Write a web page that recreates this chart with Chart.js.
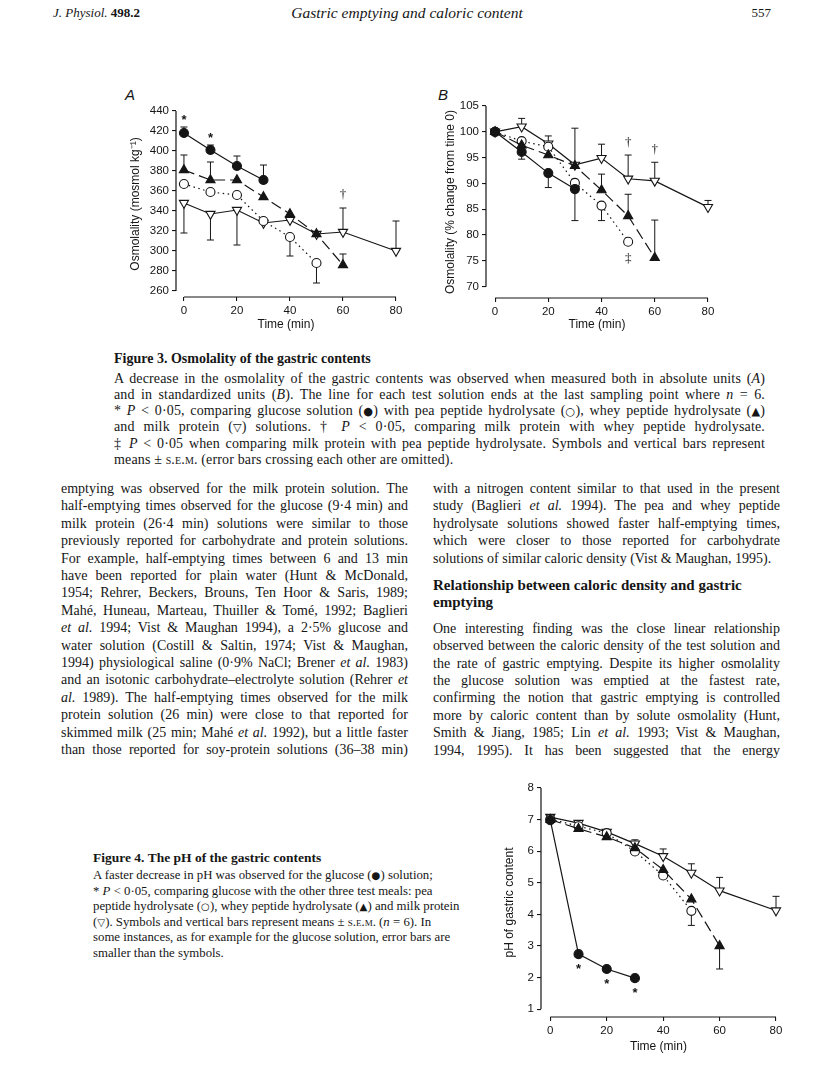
<!DOCTYPE html>
<html>
<head>
<meta charset="utf-8">
<script src="https://cdn.jsdelivr.net/npm/chart.js@4.4.1/dist/chart.umd.min.js"></script>
<style>
  body { margin: 0; background: #fff; }
  #page { position: relative; width: 816px; height: 1088px; overflow: hidden; color: #161616;
          font-family: "Liberation Serif", "DejaVu Serif", serif; }
  .abs { position: absolute; }
  canvas { position: absolute; }
  .j { text-align: justify; text-align-last: justify; white-space: nowrap; }
  .l { text-align: left; white-space: nowrap; }
  .body { font-size: 14px; line-height: 17.4px; }
  .cap3 { font-size: 14px; line-height: 15.8px; letter-spacing: 0.15px; }
  .cap4 { font-size: 12.8px; line-height: 15.6px; }
  .sc { font-variant: small-caps; }
  .sym { display: inline-block; font-family: "DejaVu Sans", sans-serif; font-size: 0.8em; }
  .panel { font-family: "Liberation Sans", sans-serif; font-style: italic; font-size: 15px; line-height: 16px; }
</style>
</head>
<body>
<div id="page">
  <!-- running head -->
  <div class="abs" style="left:53px; top:5px; font-size:13px; line-height:16px;"><i>J. Physiol.</i> <b>498.2</b></div>
  <div class="abs" style="left:200px; width:414px; top:4px; text-align:center; font-size:15.5px; line-height:18px;"><i>Gastric emptying and caloric content</i></div>
  <div class="abs" style="left:700px; width:71px; top:5px; text-align:right; font-size:13px; line-height:16px;">557</div>

  <div class="abs panel" style="left:125px; top:87px;">A</div>
  <div class="abs panel" style="left:438px; top:87px;">B</div>

  <canvas id="chartA" width="284" height="239" style="left:124px; top:97px;"></canvas>
  <canvas id="chartB" width="281" height="244" style="left:439px; top:92px;"></canvas>
  <canvas id="chartC" width="290" height="282" style="left:498px; top:776px;"></canvas>

  <!-- Figure 3 caption -->
  <div class="abs" style="left:114px; top:351px; font-size:14px; line-height:16px; font-weight:bold;">Figure 3. Osmolality of the gastric contents</div>
  <div class="abs cap3" style="left:114px; top:371px; width:651px;">
    <div class="j">A decrease in the osmolality of the gastric contents was observed when measured both in absolute units (<i>A</i>)</div>
    <div class="j">and in standardized units (<i>B</i>). The line for each test solution ends at the last sampling point where <i>n</i> = 6.</div>
    <div class="j">* <i>P</i> &lt; 0·05, comparing glucose solution (<span class="sym">●</span>) with pea peptide hydrolysate (<span class="sym">○</span>), whey peptide hydrolysate (<span class="sym">▲</span>)</div>
    <div class="j">and milk protein (<span class="sym">▽</span>) solutions. † <i>P</i> &lt; 0·05, comparing milk protein with whey peptide hydrolysate.</div>
    <div class="j">‡ <i>P</i> &lt; 0·05 when comparing milk protein with pea peptide hydrolysate. Symbols and vertical bars represent</div>
    <div class="l">means ± <span class="sc">s.e.m.</span> (error bars crossing each other are omitted).</div>
  </div>

  <!-- left text column -->
  <div class="abs body" style="left:61px; top:480px; width:347px;">
    <div class="j">emptying was observed for the milk protein solution. The</div>
    <div class="j">half-emptying times observed for the glucose (9·4 min) and</div>
    <div class="j">milk protein (26·4 min) solutions were similar to those</div>
    <div class="j">previously reported for carbohydrate and protein solutions.</div>
    <div class="j">For example, half-emptying times between 6 and 13 min</div>
    <div class="j">have been reported for plain water (Hunt &amp; McDonald,</div>
    <div class="j">1954; Rehrer, Beckers, Brouns, Ten Hoor &amp; Saris, 1989;</div>
    <div class="j">Mahé, Huneau, Marteau, Thuiller &amp; Tomé, 1992; Baglieri</div>
    <div class="j"><i>et al.</i> 1994; Vist &amp; Maughan 1994), a 2·5% glucose and</div>
    <div class="j">water solution (Costill &amp; Saltin, 1974; Vist &amp; Maughan,</div>
    <div class="j">1994) physiological saline (0·9% NaCl; Brener <i>et al.</i> 1983)</div>
    <div class="j">and an isotonic carbohydrate–electrolyte solution (Rehrer <i>et</i></div>
    <div class="j"><i>al.</i> 1989). The half-emptying times observed for the milk</div>
    <div class="j">protein solution (26 min) were close to that reported for</div>
    <div class="j">skimmed milk (25 min; Mahé <i>et al.</i> 1992), but a little faster</div>
    <div class="j">than those reported for soy-protein solutions (36–38 min)</div>
  </div>

  <!-- right text column -->
  <div class="abs body" style="left:433px; top:480px; width:347px;">
    <div class="j">with a nitrogen content similar to that used in the present</div>
    <div class="j">study (Baglieri <i>et al.</i> 1994). The pea and whey peptide</div>
    <div class="j">hydrolysate solutions showed faster half-emptying times,</div>
    <div class="j">which were closer to those reported for carbohydrate</div>
    <div class="l">solutions of similar caloric density (Vist &amp; Maughan, 1995).</div>
    <div style="margin:10px 0 8px 0; font-weight:bold; font-size:15px; line-height:17.4px;">
      <div class="l">Relationship between caloric density and gastric</div>
      <div class="l">emptying</div>
    </div>
    <div class="j">One interesting finding was the close linear relationship</div>
    <div class="j">observed between the caloric density of the test solution and</div>
    <div class="j">the rate of gastric emptying. Despite its higher osmolality</div>
    <div class="j">the glucose solution was emptied at the fastest rate,</div>
    <div class="j">confirming the notion that gastric emptying is controlled</div>
    <div class="j">more by caloric content than by solute osmolality (Hunt,</div>
    <div class="j">Smith &amp; Jiang, 1985; Lin <i>et al.</i> 1993; Vist &amp; Maughan,</div>
    <div class="j">1994, 1995). It has been suggested that the energy</div>
  </div>

  <!-- Figure 4 caption -->
  <div class="abs" style="left:93px; top:850px; font-size:13.5px; line-height:16px; font-weight:bold;">Figure 4. The pH of the gastric contents</div>
  <div class="abs cap4" style="left:93px; top:868px;">
    <div class="l">A faster decrease in pH was observed for the glucose (<span class="sym">●</span>) solution;</div>
    <div class="l">* <i>P</i> &lt; 0·05, comparing glucose with the other three test meals: pea</div>
    <div class="l">peptide hydrolysate (<span class="sym">○</span>), whey peptide hydrolysate (<span class="sym">▲</span>) and milk protein</div>
    <div class="l">(<span class="sym">▽</span>). Symbols and vertical bars represent means ± <span class="sc">s.e.m.</span> (<i>n</i> = 6). In</div>
    <div class="l">some instances, as for example for the glucose solution, error bars are</div>
    <div class="l">smaller than the symbols.</div>
  </div>
</div>

<script>
// sampling times (min)
const times = [0, 10, 20, 30, 40, 50, 60, 80];

// Figure 3A: osmolality (mosmol/kg); *Err = value at the end of the one-sided s.e.m. bar
const glucoseA    = [418, 401, 385, 371];
const glucoseAErr = [424, 406, 395, 386];
const peaA        = [367, 359, 356, 330, 314, 288];
const peaAErr     = [null, null, null, null, 295, 268];
const wheyA       = [381, 371, 371, 354, 337, 317, 286];
const wheyAErr    = [396, 389, null, null, null, null, 297];
const milkA       = [348, 337, 341, 328, 331, 317, 319, 300];
const milkAErr    = [318, 311, 306, null, null, null, 343, 330];
const yTicksA     = [260, 280, 300, 320, 340, 360, 380, 400, 420, 440];
const marksA      = [[0, 433.5, '*'], [10, 416, '*'], [60, 356, '†']];

// Figure 3B: % change from time 0
const glucoseB    = [100, 96.1, 92.0, 88.9];
const glucoseBErr = [null, 94.7, 89.2, 82.8];
const peaB        = [100, 98.2, 97.1, 90.1, 85.7, 78.7];
const peaBErr     = [null, null, null, null, 82.8, null];
const wheyB       = [100, 97.4, 95.5, 93.4, 88.7, 83.7, 75.6];
const wheyBErr    = [null, null, null, null, 91.8, 87.9, 82.9];
const milkB       = [100, 101.0, 97.7, 93.6, 94.9, 90.9, 90.5, 85.4];
const milkBErr    = [null, 102.6, 99.2, 100.7, 97.6, 95.5, 94.1, 86.7];
const yTicksB     = [70, 75, 80, 85, 90, 95, 100, 105];
const marksB      = [[50, 98.0, '†'], [60, 96.6, '†'], [50, 75.4, '‡']];

// Figure 4: pH
const glucoseC    = [6.98, 2.74, 2.27, 1.98];
const glucoseCErr = [null, null, null, null];
const peaC        = [7.02, 6.79, 6.57, 5.99, 5.23, 4.11];
const peaCErr     = [null, null, null, null, null, 3.65];
const wheyC       = [7.0, 6.71, 6.45, 6.10, 5.41, 4.48, 3.0];
const wheyCErr    = [null, null, null, null, null, null, 2.27];
const milkC       = [7.08, 6.89, 6.61, 6.24, 5.84, 5.31, 4.75, 4.12];
const milkCErr    = [null, null, null, 6.36, 6.07, 5.60, 5.17, 4.57];
const yTicksC     = [1, 2, 3, 4, 5, 6, 7, 8];
const marksC      = [[10, 2.36, '*'], [20, 1.88, '*'], [30, 1.6, '*']];

const xTicks = [0, 20, 40, 60, 80];
const INK = '#151515';

Chart.defaults.font.family = '"Liberation Sans", Arial, sans-serif';
Chart.defaults.font.size = 11.5;
Chart.defaults.color = INK;

function pts(vals) { return vals.map((v, i) => ({ x: times[i], y: v })); }

function series(vals, errs, kind) {
  const styles = {
    glucose: { pointStyle: 'circle', radius: 4.5, fill: INK, dash: [] },
    pea:     { pointStyle: 'circle', radius: 4.5, fill: '#fff', dash: [1.5, 3.5] },
    whey:    { pointStyle: 'triangle', radius: 5.3, fill: INK, dash: [11, 5] },
    milk:    { pointStyle: 'triangle', radius: 5.3, fill: '#fff', dash: [], rot: 180 }
  }[kind];
  return {
    data: pts(vals),
    errEnds: errs,
    borderColor: INK,
    borderWidth: 1.2,
    borderDash: styles.dash,
    pointStyle: styles.pointStyle,
    pointRadius: styles.radius,
    pointRotation: styles.rot || 0,
    pointBackgroundColor: styles.fill,
    pointBorderColor: INK,
    pointBorderWidth: 1.1,
    tension: 0,
    clip: false
  };
}

// one-sided s.e.m. bars with caps, drawn under the symbols
const errorBars = {
  id: 'errorBars',
  beforeDatasetsDraw(chart) {
    const { ctx, scales: { x, y } } = chart;
    ctx.save();
    ctx.strokeStyle = INK;
    ctx.lineWidth = 1;
    chart.data.datasets.forEach(ds => {
      (ds.errEnds || []).forEach((end, i) => {
        if (end == null || !ds.data[i]) return;
        const px = x.getPixelForValue(ds.data[i].x);
        const p0 = y.getPixelForValue(ds.data[i].y);
        const p1 = y.getPixelForValue(end);
        ctx.beginPath();
        ctx.moveTo(px, p0); ctx.lineTo(px, p1);
        ctx.moveTo(px - 3.5, p1); ctx.lineTo(px + 3.5, p1);
        ctx.stroke();
      });
    });
    ctx.restore();
  }
};

// detached axis lines spanning first..last tick
const axisLines = {
  id: 'axisLines',
  afterDraw(chart) {
    const { ctx, chartArea, scales: { x, y } } = chart;
    const yt = y.ticks.map(t => t.value), xt = x.ticks.map(t => t.value);
    ctx.save();
    ctx.strokeStyle = INK;
    ctx.lineWidth = 1.2;
    ctx.beginPath();
    ctx.moveTo(chartArea.left, y.getPixelForValue(yt[0]));
    ctx.lineTo(chartArea.left, y.getPixelForValue(yt[yt.length - 1]));
    ctx.moveTo(x.getPixelForValue(xt[0]), chartArea.bottom);
    ctx.lineTo(x.getPixelForValue(xt[xt.length - 1]), chartArea.bottom);
    ctx.stroke();
    ctx.restore();
  }
};

// significance marks (*, †, ‡)
const sigMarks = {
  id: 'sigMarks',
  afterDatasetsDraw(chart, args, opts) {
    const { ctx, scales: { x, y } } = chart;
    ctx.save();
    ctx.fillStyle = INK;
    ctx.textAlign = 'center';
    ctx.textBaseline = 'middle';
    (opts.marks || []).forEach(([t, v, s]) => {
      ctx.font = s === '*' ? 'bold 13px "Liberation Sans"' : '13px "Liberation Serif"';
      ctx.fillText(s, x.getPixelForValue(t), y.getPixelForValue(v) + (s === '*' ? 3 : 0));
    });
    ctx.restore();
  }
};

function makeChart(id, cfg) {
  const scaleCommon = {
    type: 'linear',
    border: { display: false },
    grid: { display: true, drawOnChartArea: false, drawTicks: true, tickLength: 4, color: INK, lineWidth: 1.1 },
    ticks: { autoSkip: false, maxRotation: 0, padding: 3, color: INK }
  };
  const titleFont = { size: 12 };
  return new Chart(document.getElementById(id), {
    type: 'line',
    data: { datasets: cfg.datasets },
    options: {
      responsive: false,
      animation: false,
      devicePixelRatio: 1,
      layout: { padding: { top: cfg.padTop, right: 12, left: 0, bottom: 0 } },
      plugins: { legend: { display: false }, tooltip: { enabled: false }, sigMarks: { marks: cfg.marks } },
      scales: {
        x: Object.assign({}, scaleCommon, {
          min: cfg.xMin, max: 80,
          afterBuildTicks: s => { s.ticks = xTicks.map(v => ({ value: v })); },
          afterFit: s => { s.height = cfg.xH; },
          title: { display: true, text: 'Time (min)', color: INK, font: titleFont }
        }),
        y: Object.assign({}, scaleCommon, {
          min: cfg.yMin, max: cfg.yMax,
          afterBuildTicks: s => { s.ticks = cfg.yTicks.map(v => ({ value: v })); },
          afterFit: s => { s.width = cfg.yW; },
          title: { display: true, text: cfg.yTitle, color: INK, font: titleFont }
        })
      }
    },
    plugins: [errorBars, axisLines, sigMarks]
  });
}

makeChart('chartA', {
  datasets: [
    series(glucoseA, glucoseAErr, 'glucose'),
    series(wheyA, wheyAErr, 'whey'),
    series(peaA, peaAErr, 'pea'),
    series(milkA, milkAErr, 'milk')
  ],
  marks: marksA, xMin: -3, yMin: 254, yMax: 440, yTicks: yTicksA,
  yTitle: 'Osmolality (mosmol kg⁻¹)', yW: 52, xH: 39, padTop: 14
});

makeChart('chartB', {
  datasets: [
    series(glucoseB, glucoseBErr, 'glucose'),
    series(wheyB, wheyBErr, 'whey'),
    series(peaB, peaBErr, 'pea'),
    series(milkB, milkBErr, 'milk')
  ],
  marks: marksB, xMin: -3.4, yMin: 67.8, yMax: 105, yTicks: yTicksB,
  yTitle: 'Osmolality (% change from time 0)', yW: 47, xH: 38, padTop: 14
});

makeChart('chartC', {
  datasets: [
    series(glucoseC, glucoseCErr, 'glucose'),
    series(wheyC, wheyCErr, 'whey'),
    series(peaC, peaCErr, 'pea'),
    series(milkC, milkCErr, 'milk')
  ],
  marks: marksC, xMin: -3.3, yMin: 0.75, yMax: 8, yTicks: yTicksC,
  yTitle: 'pH of gastric content', yW: 43, xH: 41, padTop: 12
});
</script>
</body>
</html>
